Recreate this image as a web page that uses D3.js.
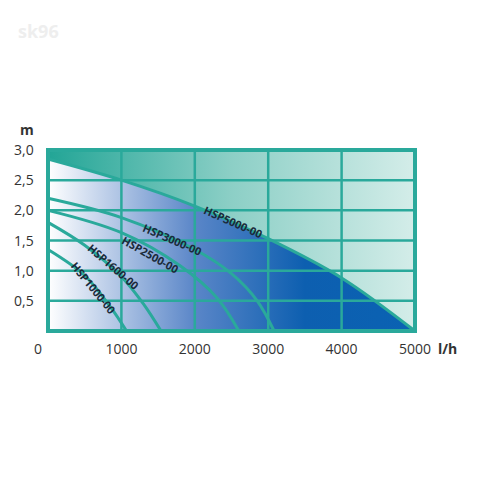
<!DOCTYPE html><html><head><meta charset="utf-8"><script src="https://cdn.jsdelivr.net/npm/d3@7"></script>
<style>body{margin:0;background:#fff}</style></head><body><svg width="480" height="480"></svg><script>
const xTicks=[0,1000,2000,3000,4000,5000];
const yTicks=[0.5,1.0,1.5,2.0,2.5,3.0];
const names=["HSP5000-00","HSP3000-00","HSP2500-00","HSP1600-00","HSP1000-00"];
const curves=[
 [[0,2.85],[1000,2.5],[2000,2.07],[3000,1.53],[4000,0.88],[5000,0]],
 [[0,2.2],[1000,1.88],[2000,1.35],[2500,0.95],[2850,0.5],[3080,0]],
 [[0,2.0],[1000,1.63],[1800,1.08],[2300,0.55],[2600,0]],
 [[0,1.8],[500,1.42],[1000,0.9],[1300,0.45],[1540,0]],
 [[0,1.35],[500,0.92],[850,0.4],[1070,0]]];
const labelAt=[[2520,1.8],[1690,1.51],[1390,1.26],[885,1.06],[613,0.71]];
const svg=d3.select("svg");
const x=d3.scaleLinear().domain([0,5000]).range([48,415]);
const y=d3.scaleLinear().domain([0,3]).range([331,150]);
const defs=svg.append("defs");
const g1=defs.append("linearGradient").attr("id","blue");
g1.append("stop").attr("offset","0").attr("stop-color","#ffffff");
g1.append("stop").attr("offset","0.4").attr("stop-color","#5a86c8");
g1.append("stop").attr("offset","0.7").attr("stop-color","#0d5fb0");
g1.append("stop").attr("offset","1").attr("stop-color","#0a62b3");
const g2=defs.append("linearGradient").attr("id","teal");
g2.append("stop").attr("offset","0").attr("stop-color","#22a596");
g2.append("stop").attr("offset","0.5").attr("stop-color","#8ccfc6");
g2.append("stop").attr("offset","1").attr("stop-color","#d4ede9");
svg.append("rect").attr("x",x(0)).attr("y",y(3)).attr("width",x(5000)-x(0)).attr("height",y(0)-y(3)).attr("fill","url(#teal)");
const cv=d3.curveCatmullRom.alpha(0.5);
const line=d3.line().x(d=>x(d[0])).y(d=>y(d[1])).curve(cv);
const area=d3.area().x(d=>x(d[0])).y0(y(0)).y1(d=>y(d[1])).curve(cv);
svg.append("path").datum(curves[0]).attr("d",area).attr("fill","url(#blue)");
const grid="#2aa99b";
svg.selectAll(".gx").data(xTicks.slice(1,5)).join("line").attr("x1",d=>x(d)).attr("x2",d=>x(d)).attr("y1",y(0)).attr("y2",y(3)).attr("stroke",grid).attr("stroke-width",2.5);
svg.selectAll(".gy").data(yTicks.slice(0,5)).join("line").attr("y1",d=>y(d)).attr("y2",d=>y(d)).attr("x1",x(0)).attr("x2",x(5000)).attr("stroke",grid).attr("stroke-width",2.5);
svg.selectAll(".c").data(curves).join("path").attr("d",line).attr("fill","none").attr("stroke",grid).attr("stroke-width",3);
svg.append("rect").attr("x",x(0)).attr("y",y(3)).attr("width",x(5000)-x(0)).attr("height",y(0)-y(3)).attr("fill","none").attr("stroke",grid).attr("stroke-width",4);
const ff="'Open Sans',sans-serif";
names.forEach((n,i)=>{
 const c=curves[i];const lx=labelAt[i][0];
 let k=0;for(let j=0;j<c.length-1;j++) if(lx>=c[j][0]&&lx<=c[j+1][0]) k=j;
 const ang=Math.atan2(y(c[k+1][1])-y(c[k][1]),x(c[k+1][0])-x(c[k][0]))*180/Math.PI;
 svg.append("text").attr("transform",`translate(${x(lx)},${y(labelAt[i][1])}) rotate(${ang})`).attr("text-anchor","middle").attr("dy","0.35em").attr("font-family",ff).attr("font-weight","bold").attr("font-size",11).attr("fill","#1a2a3a").text(n);
});
svg.selectAll(".yl").data(yTicks).join("text").attr("x",14).attr("y",d=>y(d)+5).attr("font-family",ff).attr("font-size",14).attr("fill","#333").text(d=>d.toFixed(1).replace(".",","));
svg.selectAll(".xl").data(xTicks).join("text").attr("x",d=>d===0?38:x(d)).attr("y",354).attr("text-anchor","middle").attr("font-family",ff).attr("font-size",14).attr("fill","#333").text(d=>d);
svg.append("text").attr("x",20).attr("y",135).attr("font-family",ff).attr("font-weight","bold").attr("font-size",14).attr("fill","#333").text("m");
svg.append("text").attr("x",438).attr("y",354).attr("font-family",ff).attr("font-weight","bold").attr("font-size",14).attr("fill","#333").text("l/h");
svg.append("text").attr("x",18).attr("y",38).attr("font-family",ff).attr("font-weight","bold").attr("font-size",18).attr("fill","#eeeeee").text("sk96");
</script></body></html>
